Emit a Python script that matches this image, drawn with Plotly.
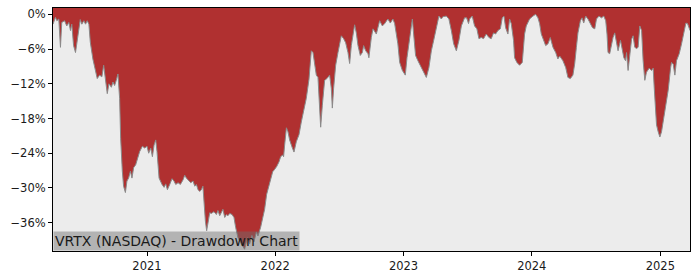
import numpy as np
import pandas as pd
import plotly.graph_objects as go

# Decimal-year timestamps and drawdown values (%)
years = [
    2020.269, 2020.288, 2020.299, 2020.314, 2020.327, 2020.337, 2020.359, 2020.376, 2020.392, 2020.405,
    2020.415, 2020.429, 2020.444, 2020.454, 2020.468, 2020.481, 2020.493, 2020.509, 2020.522, 2020.535,
    2020.548, 2020.559, 2020.579, 2020.600, 2020.613, 2020.631, 2020.649, 2020.663, 2020.678, 2020.691,
    2020.704, 2020.723, 2020.735, 2020.748, 2020.761, 2020.774, 2020.787, 2020.795, 2020.808, 2020.818,
    2020.832, 2020.844, 2020.857, 2020.871, 2020.883, 2020.896, 2020.912, 2020.925, 2020.943, 2020.964,
    2020.982, 2021.000, 2021.013, 2021.029, 2021.042, 2021.055, 2021.068, 2021.078, 2021.094, 2021.117,
    2021.133, 2021.146, 2021.159, 2021.177, 2021.195, 2021.210, 2021.224, 2021.242, 2021.260, 2021.281,
    2021.294, 2021.307, 2021.320, 2021.341, 2021.359, 2021.372, 2021.385, 2021.398, 2021.411, 2021.424,
    2021.436, 2021.444, 2021.455, 2021.465, 2021.475, 2021.489, 2021.502, 2021.522, 2021.541, 2021.553,
    2021.567, 2021.580, 2021.592, 2021.606, 2021.619, 2021.631, 2021.645, 2021.663, 2021.678, 2021.691,
    2021.709, 2021.728, 2021.748, 2021.761, 2021.783, 2021.800, 2021.818, 2021.834, 2021.853, 2021.865,
    2021.886, 2021.902, 2021.917, 2021.933, 2021.956, 2021.980, 2021.995, 2022.011, 2022.029, 2022.042,
    2022.058, 2022.065, 2022.073, 2022.087, 2022.099, 2022.112, 2022.130, 2022.146, 2022.164, 2022.185,
    2022.203, 2022.221, 2022.242, 2022.263, 2022.281, 2022.294, 2022.307, 2022.320, 2022.333, 2022.346,
    2022.354, 2022.367, 2022.385, 2022.403, 2022.424, 2022.437, 2022.445, 2022.455, 2022.471, 2022.489,
    2022.502, 2022.515, 2022.533, 2022.549, 2022.567, 2022.580, 2022.593, 2022.606, 2022.619, 2022.632,
    2022.645, 2022.663, 2022.679, 2022.689, 2022.705, 2022.723, 2022.730, 2022.749, 2022.762, 2022.788,
    2022.814, 2022.835, 2022.853, 2022.878, 2022.897, 2022.917, 2022.931, 2022.956, 2022.970, 2022.991,
    2023.014, 2023.027, 2023.048, 2023.069, 2023.079, 2023.094, 2023.112, 2023.139, 2023.159, 2023.178,
    2023.198, 2023.217, 2023.235, 2023.256, 2023.276, 2023.295, 2023.307, 2023.334, 2023.354, 2023.373,
    2023.391, 2023.412, 2023.432, 2023.451, 2023.476, 2023.492, 2023.507, 2023.515, 2023.536, 2023.554,
    2023.572, 2023.588, 2023.606, 2023.624, 2023.645, 2023.666, 2023.684, 2023.702, 2023.718, 2023.736,
    2023.755, 2023.770, 2023.783, 2023.796, 2023.814, 2023.827, 2023.840, 2023.858, 2023.866, 2023.884,
    2023.905, 2023.926, 2023.944, 2023.957, 2023.983, 2024.009, 2024.030, 2024.048, 2024.061, 2024.074,
    2024.092, 2024.108, 2024.126, 2024.144, 2024.165, 2024.186, 2024.203, 2024.217, 2024.242, 2024.264,
    2024.281, 2024.300, 2024.320, 2024.334, 2024.347, 2024.359, 2024.378, 2024.391, 2024.404, 2024.419,
    2024.437, 2024.456, 2024.472, 2024.490, 2024.503, 2024.523, 2024.542, 2024.560, 2024.575, 2024.585,
    2024.593, 2024.606, 2024.620, 2024.632, 2024.645, 2024.659, 2024.671, 2024.690, 2024.702, 2024.716,
    2024.729, 2024.737, 2024.749, 2024.762, 2024.776, 2024.788, 2024.801, 2024.815, 2024.827, 2024.840,
    2024.854, 2024.866, 2024.879, 2024.892, 2024.913, 2024.931, 2024.944, 2024.952, 2024.960, 2024.970,
    2024.983, 2024.996, 2025.009, 2025.027, 2025.043, 2025.061, 2025.080, 2025.087, 2025.100, 2025.113,
    2025.126, 2025.147, 2025.165, 2025.183, 2025.199, 2025.212, 2025.231,
]

drawdown = [
    -1.7, -0.5, -1.1, -0.8, -5.7, -1.4, -1.1, -2.0, -1.4, -2.8,
    -1.7, -5.4, -6.6, -5.1, -2.3, -0.9, -1.7, -1.1, -1.7, -1.1,
    -1.7, -4.8, -7.7, -10.0, -11.1, -10.5, -10.8, -8.8, -11.7, -13.7,
    -12.0, -12.6, -11.7, -12.3, -11.4, -10.3, -14.5, -21.4, -27.1, -29.7,
    -30.8, -28.8, -28.3, -27.1, -28.3, -26.5, -26.0, -25.1, -23.7, -22.8,
    -23.1, -22.8, -24.0, -23.1, -24.6, -22.6, -21.7, -23.7, -28.3, -29.4,
    -29.9, -29.3, -30.3, -29.4, -28.4, -28.8, -29.4, -29.1, -29.4, -28.6,
    -27.8, -28.3, -28.6, -29.1, -28.8, -29.7, -29.4, -30.3, -30.6, -30.3,
    -29.7, -32.8, -35.7, -37.4, -35.7, -34.3, -34.4, -34.1, -34.6, -33.9,
    -34.8, -34.3, -33.7, -35.1, -34.6, -34.8, -34.4, -34.6, -35.1, -36.8,
    -38.6, -39.4, -40.2, -40.6, -38.6, -39.7, -38.2, -39.3, -37.6, -38.3,
    -36.8, -35.4, -33.7, -31.1, -29.1, -27.2, -26.8, -26.3, -25.5, -24.6,
    -24.3, -24.6, -22.6, -19.6, -20.3, -21.7, -22.9, -23.8, -22.0, -20.8,
    -18.6, -16.9, -14.5, -11.2, -6.3, -6.6, -8.8, -10.5, -10.9, -15.2,
    -19.5, -15.7, -11.4, -11.1, -10.5, -12.8, -16.2, -12.8, -8.8, -6.6,
    -4.9, -3.7, -4.2, -4.9, -6.6, -8.5, -5.4, -3.2, -1.8, -3.2,
    -5.4, -7.1, -6.6, -5.4, -6.3, -6.8, -7.5, -4.0, -2.5, -3.4,
    -1.1, -2.0, -1.6, -0.8, -1.5, -0.8, -1.6, -5.1, -8.3, -9.7,
    -10.5, -7.5, -4.0, -0.8, -3.4, -7.1, -8.0, -9.2, -10.0, -10.9,
    -9.2, -6.3, -4.5, -2.0, -0.3, -0.8, -0.4, -0.3, -0.8, -2.8,
    -5.1, -6.3, -4.5, -2.0, -0.6, -0.6, -1.6, -0.8, -0.3, -2.0,
    -2.5, -4.2, -4.0, -4.2, -3.4, -4.0, -4.2, -3.2, -3.4, -2.8,
    -2.5, -0.6, -0.3, -2.3, -3.4, -0.8, -1.6, -4.5, -7.5, -8.3,
    -8.8, -8.3, -3.4, -2.0, -0.8, -0.3, 0.0, -0.6, -1.6, -3.4,
    -4.5, -5.4, -5.1, -4.0, -5.7, -6.6, -7.7, -7.2, -8.0, -9.2,
    -10.9, -11.1, -10.5, -8.5, -5.7, -3.2, -1.1, -0.6, -1.5, -0.3,
    -0.8, -1.6, -2.3, -2.5, -0.8, -0.3, -0.6, -0.3, -1.1, -3.4,
    -6.6, -6.8, -5.1, -4.0, -3.2, -5.1, -6.3, -4.5, -5.7, -7.5,
    -8.0, -6.6, -9.7, -7.5, -4.3, -3.7, -5.7, -5.9, -5.7, -2.0,
    -2.8, -8.0, -11.4, -10.0, -9.3, -9.7, -9.3, -12.6, -16.5, -19.1,
    -20.3, -21.2, -20.3, -17.8, -15.3, -13.1, -9.2, -8.3, -8.6, -10.5,
    -8.0, -6.8, -5.1, -3.4, -1.5, -1.6, -2.8,
]

y_ticks = [0, -6, -12, -18, -24, -30, -36]
y_tick_labels = ["0%", "\u22126%", "\u221212%", "\u221218%", "\u221224%", "\u221230%", "\u221236%"]
x_tick_years = [2021, 2022, 2023, 2024, 2025]
x_tick_labels = ["2021", "2022", "2023", "2024", "2025"]
title_text = "VRTX (NASDAQ) - Drawdown Chart"

Y_TOP = 1.1
Y_BOTTOM = -40.9


def year_to_date(y):
    yi = int(np.floor(y))
    start = pd.Timestamp(yi, 1, 1)
    end = pd.Timestamp(yi + 1, 1, 1)
    return start + (end - start) * (y - yi)


dates = [year_to_date(y) for y in years]
x_ticks = [pd.Timestamp(y, 1, 1) for y in x_tick_years]

fig = go.Figure()
# upper boundary at the top of the axis (fill reaches the frame top)
fig.add_trace(go.Scatter(
    x=dates, y=[Y_TOP] * len(dates), mode="lines",
    line=dict(width=0, color="rgba(0,0,0,0)"),
    hoverinfo="skip", showlegend=False,
))
fig.add_trace(go.Scatter(
    x=dates, y=drawdown, mode="lines", fill="tonexty",
    fillcolor="#b03030", line=dict(color="#8a8a8a", width=1),
    hoverinfo="skip", showlegend=False,
))

font = "DejaVu Sans, sans-serif"
fig.update_layout(
    width=700, height=280,
    margin=dict(l=53, r=10, t=7, b=28),
    paper_bgcolor="white", plot_bgcolor="#ececec",
    font=dict(family=font, size=11.5, color="#1a1a1a"),
    xaxis=dict(
        range=[dates[0], dates[-1]],
        tickvals=x_ticks, ticktext=x_tick_labels,
        showgrid=False, zeroline=False,
        showline=True, linecolor="black", linewidth=1, mirror=True,
        ticks="outside", ticklen=4, tickcolor="black",
    ),
    yaxis=dict(
        range=[Y_BOTTOM, Y_TOP],
        tickvals=y_ticks, ticktext=y_tick_labels,
        showgrid=False, zeroline=False,
        showline=True, linecolor="black", linewidth=1, mirror=True,
        ticks="outside", ticklen=4, tickcolor="black",
    ),
    annotations=[dict(
        text=title_text, xref="paper", yref="paper", x=0, y=0,
        xanchor="left", yanchor="bottom", showarrow=False,
        font=dict(family=font, size=14, color="#1a1a1a"),
        bgcolor="rgba(110,110,110,0.45)", borderpad=1,
    )],
)

fig.write_html("out.html")
